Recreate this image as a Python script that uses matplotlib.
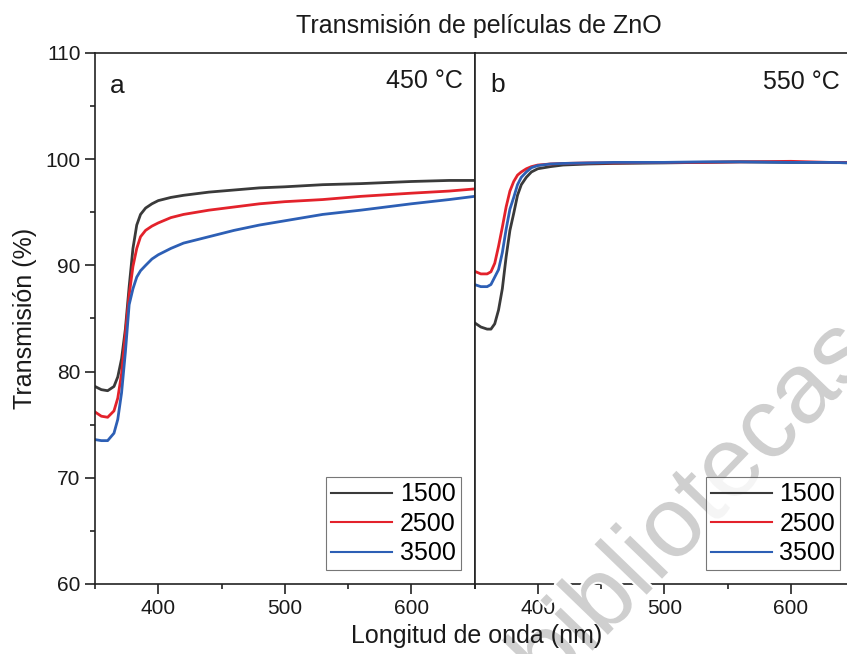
import numpy as np
import matplotlib
matplotlib.use("Agg")
import matplotlib.pyplot as plt
import matplotlib.patheffects as pe
from matplotlib.ticker import MultipleLocator

plt.rcParams['font.family'] = ['Liberation Sans', 'DejaVu Sans']

# ---- data ----
series_labels = ["1500", "2500", "3500"]
colors = ["#3a3a3a", "#e3222b", "#2d5fb5"]

# panel a: 450 °C
wl_a = [350, 355, 360, 365, 368, 371, 374, 377, 380, 383, 386, 390, 395,
        400, 410, 420, 440, 460, 480, 500, 530, 560, 600, 630, 650]
t1500_a = [78.6, 78.3, 78.2, 78.6, 79.5, 81.2, 84.0, 88.0, 91.6, 93.8, 94.8, 95.4, 95.8,
           96.1, 96.4, 96.6, 96.9, 97.1, 97.3, 97.4, 97.6, 97.7, 97.9, 98.0, 98.0]
t2500_a = [76.2, 75.8, 75.7, 76.3, 77.5, 79.8, 83.5, 87.2, 89.9, 91.6, 92.7, 93.3, 93.7,
           94.0, 94.5, 94.8, 95.2, 95.5, 95.8, 96.0, 96.2, 96.5, 96.8, 97.0, 97.2]
t3500_a = [73.6, 73.5, 73.5, 74.2, 75.5, 78.0, 81.8, 86.3, 87.8, 88.9, 89.5, 90.0, 90.6,
           91.0, 91.6, 92.1, 92.7, 93.3, 93.8, 94.2, 94.8, 95.2, 95.8, 96.2, 96.5]

# panel b: 550 °C
wl_b = [350, 355, 360, 363, 366, 369, 372, 375, 378, 381, 384, 387, 391, 395,
        400, 410, 420, 440, 460, 500, 530, 560, 600, 630, 650]
t1500_b = [84.6, 84.2, 84.0, 84.0, 84.5, 85.8, 87.8, 90.8, 93.3, 94.9, 96.6, 97.6, 98.3, 98.8,
           99.1, 99.3, 99.45, 99.55, 99.6, 99.65, 99.7, 99.75, 99.7, 99.7, 99.65]
t2500_b = [89.45, 89.2, 89.2, 89.4, 90.2, 91.8, 93.6, 95.5, 97.0, 97.9, 98.5, 98.8, 99.1, 99.3,
           99.45, 99.55, 99.6, 99.65, 99.65, 99.7, 99.7, 99.75, 99.8, 99.7, 99.7]
t3500_b = [88.2, 88.0, 88.0, 88.2, 88.9, 89.6, 91.2, 93.4, 95.3, 96.4, 97.6, 98.3, 98.8, 99.2,
           99.4, 99.55, 99.6, 99.65, 99.7, 99.7, 99.75, 99.75, 99.7, 99.7, 99.65]

panels = [
    ("a", "450 °C", wl_a, [t1500_a, t2500_a, t3500_a]),
    ("b", "550 °C", wl_b, [t1500_b, t2500_b, t3500_b]),
]

W, H = 847, 654
fig = plt.figure(figsize=(W / 100, H / 100), dpi=100)

ax_w = 379.5 / W
ax_h = 531 / H
ax_b = (H - 584) / H
ax1 = fig.add_axes([95 / W, ax_b, ax_w, ax_h])
ax2 = fig.add_axes([474.5 / W, ax_b, ax_w, ax_h])

spine_c = "#222222"
for k, (ax, (letter, temp, wl, ys)) in enumerate(zip([ax1, ax2], panels)):
    for y, c, lab in zip(ys, colors, series_labels):
        ax.plot(wl, y, color=c, lw=2.0, label=lab)
    ax.set_xlim(350, 650)
    ax.set_ylim(60, 110)
    ax.xaxis.set_major_locator(MultipleLocator(100))
    ax.xaxis.set_minor_locator(MultipleLocator(50))
    ax.yaxis.set_major_locator(MultipleLocator(10))
    ax.yaxis.set_minor_locator(MultipleLocator(5))
    for s in ax.spines.values():
        s.set_linewidth(1.2)
        s.set_color(spine_c)
    ax.tick_params(which='both', direction='out', top=False, right=False,
                   color=spine_c, width=1.2, labelsize=15, labelcolor="#1a1a1a")
    ax.tick_params(which='major', length=7)
    ax.tick_params(which='minor', length=3.5)
    if k == 1:
        ax.tick_params(axis='y', which='both', left=False, labelleft=False)
    leg = ax.legend(loc='lower right', fontsize=18, frameon=True, fancybox=False,
                    edgecolor="#555555", handlelength=2.45, handletextpad=0.3,
                    labelspacing=0.22, borderpad=0.2, borderaxespad=0.55)
    leg.get_frame().set_linewidth(0.8)
    leg.set_zorder(10)
    for h in leg.get_lines():
        h.set_linewidth(1.5)

ax1.text(15 / 379.5, (584 - 93) / 531, "a", transform=ax1.transAxes,
         fontsize=19, va='baseline', ha='left', color="#1a1a1a")
ax1.text((463 - 95) / 379.5, (584 - 88) / 531, "450 °C", transform=ax1.transAxes,
         fontsize=18, va='baseline', ha='right', color="#1a1a1a")
ax2.text(15.5 / 379.5, (584 - 92) / 531, "b", transform=ax2.transAxes,
         fontsize=19, va='baseline', ha='left', color="#1a1a1a")
ax2.text((840 - 474.5) / 379.5, (584 - 89) / 531, "550 °C", transform=ax2.transAxes,
         fontsize=18, va='baseline', ha='right', color="#1a1a1a")

ax1.set_ylabel("Transmisión (%)", fontsize=18, labelpad=6, color="#1a1a1a")

fig.text(479 / W, 1 - 33 / H, "Transmisión de películas de ZnO", fontsize=18,
         ha='center', va='baseline', color="#1a1a1a")
fig.text(477 / W, 1 - 643 / H, "Longitud de onda (nm)", fontsize=18,
         ha='center', va='baseline', color="#1a1a1a")

# watermark
ax2.text(0.197, -0.21, "bibliotecas", transform=ax2.transAxes, fontsize=72,
         color="#cfcfcf", rotation=46, rotation_mode='anchor', ha='left', va='baseline',
         clip_on=False, zorder=3,
         path_effects=[pe.withStroke(linewidth=3, foreground='white')])

fig.savefig("out.png", dpi=100)
